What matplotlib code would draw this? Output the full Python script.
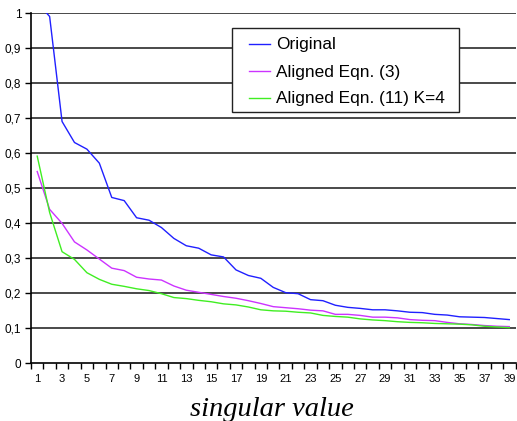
import numpy as np
import matplotlib
matplotlib.use('Agg')
import matplotlib.pyplot as plt
from matplotlib.patches import Rectangle
from matplotlib.lines import Line2D

# singular value index
idx = np.arange(1, 40)

original = [1.03, 0.99, 0.69, 0.63, 0.611, 0.571, 0.473, 0.464, 0.415, 0.408,
            0.387, 0.356, 0.335, 0.328, 0.309, 0.303, 0.266, 0.25, 0.242, 0.216,
            0.201, 0.198, 0.181, 0.178, 0.165, 0.159, 0.156, 0.152, 0.152, 0.149,
            0.145, 0.144, 0.139, 0.137, 0.132, 0.131, 0.130, 0.127, 0.124]

aligned_eq3 = [0.547, 0.439, 0.399, 0.346, 0.323, 0.297, 0.271, 0.264, 0.245, 0.24,
               0.237, 0.22, 0.208, 0.202, 0.196, 0.19, 0.185, 0.178, 0.17, 0.161,
               0.158, 0.155, 0.151, 0.149, 0.139, 0.139, 0.136, 0.131, 0.131, 0.129,
               0.124, 0.122, 0.121, 0.116, 0.112, 0.110, 0.107, 0.105, 0.104]

aligned_eq11 = [0.591, 0.43, 0.318, 0.296, 0.258, 0.239, 0.225, 0.219, 0.212, 0.207,
                0.198, 0.187, 0.184, 0.179, 0.175, 0.169, 0.166, 0.16, 0.152, 0.149,
                0.148, 0.145, 0.143, 0.136, 0.133, 0.131, 0.126, 0.123, 0.121, 0.118,
                0.116, 0.115, 0.113, 0.112, 0.111, 0.109, 0.105, 0.103, 0.101]

series_names = ['Original', 'Aligned Eqn. (3)', 'Aligned Eqn. (11) K=4']
series_colors = ['#2020ff', '#cc33ff', '#40ee22']

y_ticks = [0, 0.1, 0.2, 0.3, 0.4, 0.5, 0.6, 0.7, 0.8, 0.9, 1]
y_labels = ['0', '0,1', '0,2', '0,3', '0,4', '0,5', '0,6', '0,7', '0,8', '0,9', '1']

plt.rcParams['font.family'] = ['Liberation Sans', 'DejaVu Sans']

W, H = 517, 421
fig = plt.figure(figsize=(W / 100, H / 100), dpi=100)
ax = fig.add_axes([31 / W, 1 - 363 / H, (515.5 - 31) / W, 350 / H])

# horizontal gridlines
for v in y_ticks[1:]:
    ax.axhline(v, color='#3a3a3a', lw=1.3, zorder=1)

for vals, name, col in zip([original, aligned_eq3, aligned_eq11], series_names, series_colors):
    ax.plot(idx, vals, color=col, lw=1.0, label=name, zorder=3)

ax.set_xlim(0.5, 39.5)
ax.set_ylim(0, 1)

ax.set_yticks(y_ticks)
ax.set_yticklabels(y_labels, fontsize=8.5)
ax.set_xticks(idx[::2])
ax.set_xticklabels([str(i) for i in idx[::2]], fontsize=8)
ax.set_xticks(np.arange(0.5, 40, 1), minor=True)
ax.tick_params(axis='x', which='major', length=0, pad=8)
ax.tick_params(axis='x', which='minor', length=4, width=1, direction='out')
ax.tick_params(axis='y', length=4, width=1, direction='out', pad=3)

for side in ['top', 'right']:
    ax.spines[side].set_visible(False)
ax.spines['left'].set_linewidth(1.2)
ax.spines['bottom'].set_linewidth(1.2)

# x axis title
fig.text(271.5 / W, 1 - 416 / H, 'singular value', family='Liberation Serif',
         style='italic', fontsize=20.5, ha='center', va='baseline')

# legend box (Excel style)
def fx(px):
    return px / W

def fy(py):
    return 1 - py / H

box = Rectangle((fx(232), fy(112)), fx(459) - fx(232), fy(28) - fy(112),
                transform=fig.transFigure, facecolor='white', edgecolor='#222222',
                lw=1.0, zorder=5)
fig.patches.append(box)
for i, (name, col) in enumerate(zip(series_names, series_colors)):
    yc = 43.5 + 27 * i
    fig.lines.append(Line2D([fx(249), fx(270)], [fy(yc), fy(yc)], transform=fig.transFigure,
                            color=col, lw=1.0, zorder=6))
    fig.text(fx(276), fy(yc), name, fontsize=12.4, ha='left', va='center_baseline', zorder=6)

fig.savefig('out.png', dpi=100)
